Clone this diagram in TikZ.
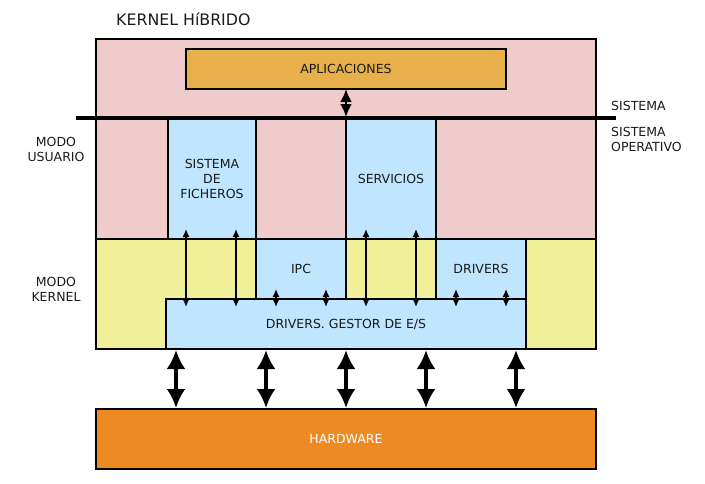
\documentclass[tikz,border=0pt]{standalone}
\usepackage{fontspec}
\setmainfont{DejaVu Sans}
\usetikzlibrary{arrows.meta,calc}
\definecolor{userpink}{RGB}{239,203,203}
\definecolor{kernyel}{RGB}{240,240,154}
\definecolor{lblue}{RGB}{191,229,255}
\definecolor{apporange}{RGB}{232,176,74}
\definecolor{hworange}{RGB}{238,138,34}
\definecolor{txt}{RGB}{26,26,26}
\tikzset{
  box/.style={draw=black, line width=2pt, inner sep=0pt, align=center, text=txt,
    font=\fontsize{12.5}{15}\selectfont},
  lbl/.style={inner sep=0pt, align=center, text=txt, font=\fontsize{12.5}{15}\selectfont},
  smallarr/.style={line width=1.5pt, {Latex[length=8pt,width=7pt]}-{Latex[length=8pt,width=7pt]}},
  midarr/.style={line width=2.5pt, {Latex[length=13pt,width=12pt]}-{Latex[length=13pt,width=12pt]}},
  bigarr/.style={line width=3.5pt, {Latex[length=19pt,width=19pt]}-{Latex[length=19pt,width=19pt]}},
}
\begin{document}
\begin{tikzpicture}[x=1pt,y=-1pt]
\useasboundingbox (0,0) rectangle (705,483);
% regions
\node[box, fill=userpink, minimum width=500pt, minimum height=200pt] (user) at (346,139) {};
\node[box, fill=kernyel, minimum width=500pt, minimum height=110pt] (kern) at (346,294) {};
% boxes
\node[box, fill=apporange, minimum width=320pt, minimum height=40pt] (app) at (346,69) {APLICACIONES};
\node[box, fill=lblue, minimum width=88pt, minimum height=120pt] (fich) at (212,179) {SISTEMA\\DE\\FICHEROS};
\node[box, fill=lblue, minimum width=90pt, minimum height=120pt] (serv) at (391,179) {SERVICIOS};
\node[box, fill=lblue, minimum width=90pt, minimum height=60pt] (ipc) at (301,269) {IPC};
\node[box, fill=lblue, minimum width=90pt, minimum height=60pt] (drv) at (481,269) {DRIVERS};
\node[box, fill=lblue, minimum width=360pt, minimum height=50pt] (gest) at (346,324) {DRIVERS. GESTOR DE E/S};
\node[box, fill=hworange, text=white, minimum width=500pt, minimum height=60pt] (hw) at (346,439) {HARDWARE};
% system line
\coordinate (lineL) at (76,118);
\coordinate (lineR) at (616,118);
\draw[line width=4pt] (lineL) -- (lineR);
% app arrow
\coordinate (appA) at (346,117);
\draw[midarr] ([yshift=1pt]app.south) -- (appA);
% small arrows
\foreach \x in {186,236} {\draw[smallarr] (\x,229) -- (\x,307);}
\foreach \x in {366,416} {\draw[smallarr] (\x,229) -- (\x,307);}
\foreach \x in {276,326,456,506} {\draw[smallarr] (\x,289) -- (\x,307);}
% big arrows
\foreach \x in {176,266,346,426,516} {\draw[bigarr] (\x,350) -- (\x,408);}
% labels
\node[lbl, font=\fontsize{15.8}{19}\selectfont, anchor=west] (title) at (116,19) {KERNEL HíBRIDO};
\node[lbl] (mu) at (56,149) {MODO\\USUARIO};
\node[lbl] (mk) at (56,289) {MODO\\KERNEL};
\node[lbl, anchor=west] (sis) at (611,106) {SISTEMA};
\node[lbl, anchor=west, align=left] (so) at (611,139) {SISTEMA\\OPERATIVO};
\end{tikzpicture}
\end{document}
